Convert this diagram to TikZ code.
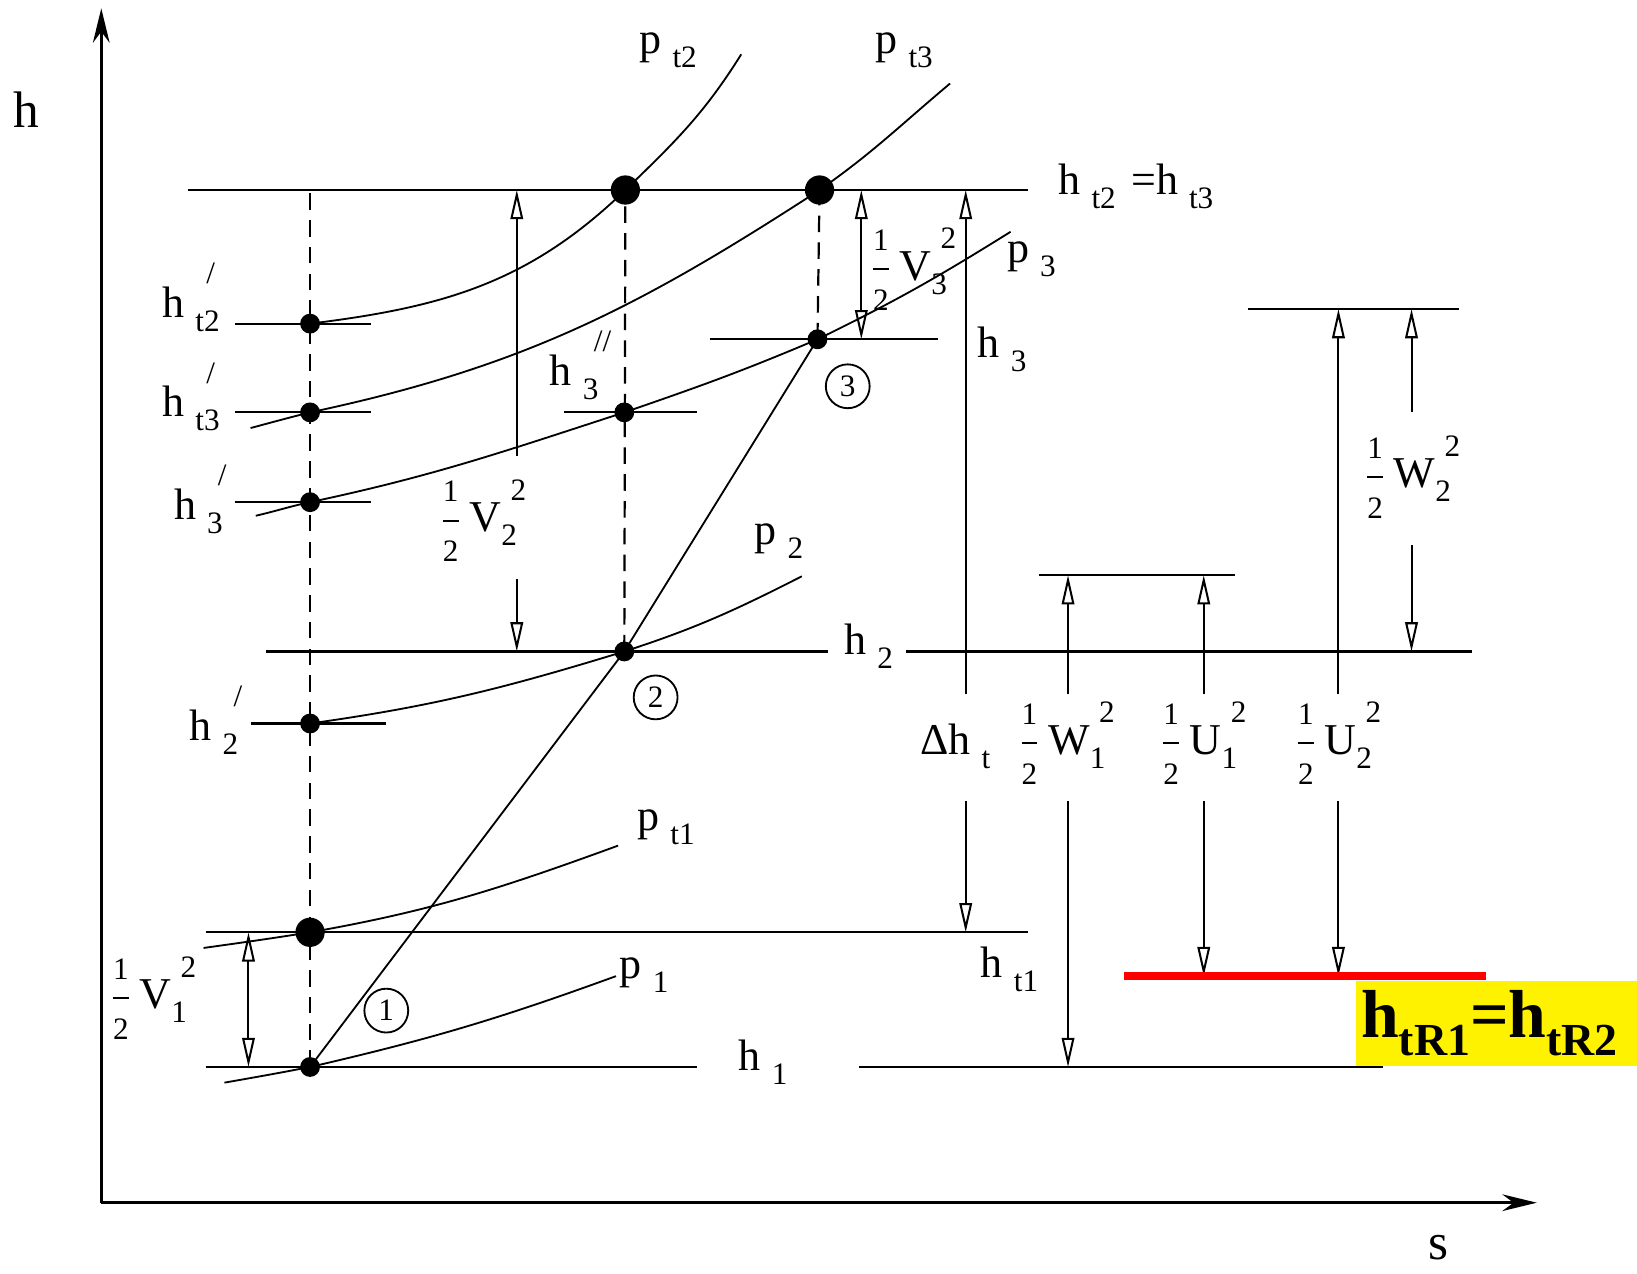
\documentclass[tikz,border=0pt]{standalone}
\usepackage{amsmath}
\usepackage{fontspec}
\setmainfont{Liberation Serif}
\usetikzlibrary{arrows.meta, positioning}

\newcommand{\scr}{\fontsize{8.5}{9}\selectfont}
\newcommand{\lowtxt}[1]{\raisebox{-3.8pt}{\scr #1}}
\newcommand{\lev}[2][]{h\hspace{0.25em}\lowtxt{\rlap{\raisebox{13pt}{\hspace{0.35em}#1}}#2}}
\newcommand{\kin}[2]{$\genfrac{}{}{0.5pt}{0}{\text{\scr 1}}{\text{\scr 2}}$\hspace{0.15em}#1\lowtxt{\rlap{#2}}\hspace{2.5pt}\raisebox{8.5pt}{\scr 2}}

\begin{document}
\begin{tikzpicture}[
  font=\fontsize{12}{14}\selectfont,
  lvl/.style = {line width=0.6pt},
  iso/.style = {line width=0.5pt},
  guide/.style = {line width=0.6pt, dash pattern=on 4.5pt off 2.8pt},
  dot/.style = {circle, fill, inner sep=0pt, minimum size=1.9mm},
  bigdot/.style = {circle, fill, inner sep=0pt, minimum size=2.8mm},
  stnum/.style = {circle, draw, line width=0.5pt, inner sep=0pt, minimum size=4.2mm, font=\fontsize{8.5}{9}\selectfont},
  arrow/.style = {-{Triangle[open, length=2.8mm, width=1.2mm]}, line width=0.55pt},
  dblarrow/.style = {{Triangle[open, length=2.8mm, width=1.2mm]}-{Triangle[open, length=2.8mm, width=1.2mm]}, line width=0.55pt},
  axis/.style = {-{Stealth[length=3.3mm, width=1.6mm]}, line width=0.7pt}
]
\useasboundingbox (0,0) rectangle (15.68,12.20);

% Axes
\coordinate (O) at (0.97,0.68);
\coordinate (yend) at (0.97,12.12);
\coordinate (xend) at (14.72,0.68);
\draw[axis] (O) -- (yend);
\draw[axis] (O) -- (xend);
\node (hax) at (0.25,11.15) {\fontsize{14}{16}\selectfont h};
\node (sax) at (13.78,0.25) {\fontsize{14}{16}\selectfont s};

% States
\node[dot] (a1) at (2.97,1.98) {};
\node[bigdot] (a1t) at (2.97,3.27) {};
\node[dot] (a2p) at (2.97,5.27) {};
\node[dot] (a3p) at (2.97,7.39) {};
\node[dot] (at3p) at (2.97,8.25) {};
\node[dot] (at2p) at (2.97,9.10) {};
\node[dot] (b2) at (5.98,5.96) {};
\node[dot] (b3pp) at (5.98,8.25) {};
\node[bigdot] (bt2) at (5.99,10.38) {};
\node[dot] (c3) at (7.83,8.95) {};
\node[bigdot] (ct3) at (7.85,10.38) {};

% Enthalpy levels
\draw[lvl] (1.80,10.38) coordinate (tt0) -- (9.85,10.38) coordinate (tt1);
\draw[lvl] (2.25,9.10) -- (3.55,9.10);
\draw[lvl] (2.25,8.25) -- (3.55,8.25);
\draw[lvl] (2.25,7.39) -- (3.55,7.39);
\draw[lvl] (5.40,8.25) -- (6.68,8.25);
\draw[lvl] (6.80,8.95) coordinate (h3a) -- (8.98,8.95);
\draw[lvl] (2.55,5.96) coordinate (h2a) -- (7.93,5.96);
\draw[lvl] (8.68,5.96) -- (14.10,5.96);
\draw[lvl] (2.40,5.27) -- (3.70,5.27);
\draw[lvl] (1.97,3.27) coordinate (ht1a) -- (9.85,3.27);
\draw[lvl] (1.97,1.98) coordinate (h1a) -- (6.68,1.98);
\draw[lvl] (8.23,1.98) -- (13.25,1.98);
\draw[lvl] (9.95,6.69) coordinate (w1a) -- (11.83,6.69);
\draw[lvl] (11.95,9.24) coordinate (w2a) -- (13.97,9.24);

% Vertical guides
\draw[guide] (a1.center) -- (a1.center |- tt0);
\draw[guide] (b2.center) -- (bt2.center);
\draw[guide] (c3.center) -- (ct3.center);

% Isobars
\coordinate (pt2e) at (7.10,11.68);
\coordinate (pt3s) at (2.40,8.10);
\coordinate (pt3e) at (9.10,11.40);
\coordinate (p3s) at (2.45,7.26);
\coordinate (p3e) at (9.68,9.98);
\coordinate (p2e) at (7.68,6.68);
\coordinate (pt1s) at (1.95,3.12);
\coordinate (pt1e) at (5.92,4.10);
\coordinate (p1s) at (2.15,1.83);
\coordinate (p1e) at (5.90,2.85);
\draw[iso] (at2p.center) to[out=7,in=224] (bt2.center) to[out=44,in=238] (pt2e);
\draw[iso] (pt3s) to[out=15,in=194] (at3p.center) to[out=12,in=213] (ct3.center) to[out=35,in=220] (pt3e);
\draw[iso] (p3s) to[out=13,in=192] (a3p.center) to[out=12,in=198] (b3pp.center) to[out=19,in=203] (c3.center) to[out=26,in=212] (p3e);
\draw[iso] (a2p.center) to[out=8,in=197] (b2.center) to[out=18,in=207] (p2e);
\draw[iso] (pt1s) to[out=8,in=189] (a1t.center) to[out=10,in=200] (pt1e);
\draw[iso] (p1s) to[out=10,in=191] (a1.center) to[out=13,in=200] (p1e);
\draw[iso] (a1.center) -- (b2.center) -- (c3.center);

% State numbers
\node[stnum] (n1) at (3.70,2.52) {1};
\node[stnum] (n2) at (6.28,5.52) {2};
\node[stnum] (n3) at (8.12,8.50) {3};

% Isobar labels
\node (lpt2) at (6.40,11.72) {p\hspace{0.25em}\lowtxt{t2}};
\node (lpt3) at (8.66,11.72) {p\hspace{0.25em}\lowtxt{t3}};
\node (lp3) at (9.88,9.72) {p\hspace{0.25em}\lowtxt{3}};
\node (lp2) at (7.46,7.02) {p\hspace{0.25em}\lowtxt{2}};
\node (lpt1) at (6.38,4.28) {p\hspace{0.25em}\lowtxt{t1}};
\node (lp1) at (6.17,2.86) {p\hspace{0.25em}\lowtxt{1}};

% Level labels
\node (lht2p) at (1.83,9.35) {\lev[/]{t2}};
\node (lht3p) at (1.83,8.40) {\lev[/]{t3}};
\node (lh3p) at (1.90,7.42) {\lev[/]{3}};
\node (lh3pp) at (5.50,8.70) {\lev[//]{3}};
\node (lh2p) at (2.05,5.30) {\lev[/]{2}};
\node (lh2) at (8.32,6.03) {\lev{2}};
\node (lht1) at (9.67,2.93) {\lev{t1}};
\node (lh1) at (7.31,2.04) {\lev{1}};
\node (lh3) at (9.60,8.87) {\lev{3}};
\node (lhtt) at (10.88,10.43) {\lev{t2}\hspace{0.35em}=\lev{t3}};

% Energy arrows
\node (kV2) at (4.62,7.21) {\kin{V}{2}};
\node (kV3) at (8.74,9.62) {\kin{V}{3}};
\node (kV1) at (1.46,2.64) {\kin{V}{1}};
\node (dht) at (9.15,5.05) {Δh\hspace{0.25em}\lowtxt{t}};
\node (kW1) at (10.21,5.08) {\kin{W}{1}};
\node (kU1) at (11.52,5.08) {\kin{U}{1}};
\node (kU2) at (12.81,5.08) {\kin{U}{2}};
\node (kW2) at (13.52,7.63) {\kin{W}{2}};

\coordinate (v2a) at (4.95,7.83);
\coordinate (v2b) at (4.95,6.65);
\draw[arrow] (v2a) -- (v2a |- tt0);
\draw[arrow] (v2b) -- (v2b |- h2a);
\coordinate (v3a) at (8.25,8.95);
\draw[dblarrow] (v3a) -- (v3a |- tt0);
\coordinate (v1a) at (2.38,1.98);
\draw[dblarrow] (v1a) -- (v1a |- ht1a);

\coordinate (dha) at (9.25,5.55);
\coordinate (dhb) at (9.25,4.53);
\draw[arrow] (dha) -- (dha |- tt0);
\draw[arrow] (dhb) -- (dhb |- ht1a);
\coordinate (w1u) at (10.23,5.55);
\coordinate (w1d) at (10.23,4.53);
\draw[arrow] (w1u) -- (w1u |- w1a);
\draw[arrow] (w1d) -- (w1d |- h1a);
\coordinate (u1u) at (11.53,5.55);
\coordinate (u1d) at (11.53,4.53);
\coordinate (red0) at (10.77,2.85);
\coordinate (red1) at (14.23,2.85);
\draw[arrow] (u1u) -- (u1u |- w1a);
\draw[arrow] (u1d) -- (u1d |- red0);
\coordinate (u2u) at (12.82,5.55);
\coordinate (u2d) at (12.82,4.53);
\draw[arrow] (u2u) -- (u2u |- w2a);
\draw[arrow] (u2d) -- (u2d |- red0);
\coordinate (w2u) at (13.52,8.25);
\coordinate (w2d) at (13.52,6.98);
\draw[arrow] (w2u) -- (w2u |- w2a);
\draw[arrow] (w2d) -- (w2d |- h2a);

% Rotor total enthalpy
\draw[red, line width=2.2pt] (red0) -- (red1);
\node[fill=yellow, anchor=south west, inner xsep=0.5mm, inner ysep=0pt, text width=2.60cm, minimum height=0.82cm, align=left] (htr) at (12.98,1.98)
  {\fontsize{18.5}{20}\selectfont\bfseries h\raisebox{-5pt}{\fontsize{12.5}{13}\selectfont tR1}=h\raisebox{-5pt}{\fontsize{12.5}{13}\selectfont tR2}};
\end{tikzpicture}
\end{document}
